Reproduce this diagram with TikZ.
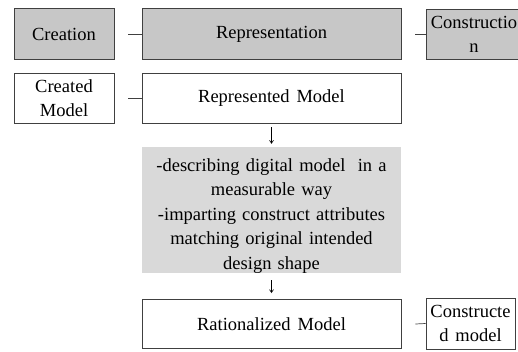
\documentclass[tikz,border=0pt]{standalone}
\usepackage{fontspec}
\setmainfont{Liberation Serif}[WordSpace=1.5]
\usetikzlibrary{arrows.meta}

\tikzset{
  stagebox/.style={draw=black!75, line width=0.9pt, fill=black!22, minimum height=51pt, inner sep=2pt, align=center},
  modelbox/.style={draw=black!75, line width=0.9pt, fill=white, minimum height=50pt, inner sep=2pt, align=center},
  notebox/.style={fill=black!15, inner sep=0pt, minimum width=259pt, minimum height=126pt},
  notetext/.style={inner sep=0pt, text width=257pt, align=center},
  link/.style={draw=black!75, line width=0.7pt},
  down/.style={-{Straight Barb[length=3pt,width=4pt]}, line width=0.6pt},
}

\begin{document}
\begin{tikzpicture}[x=1pt, y=-1pt, font=\fontsize{18.5}{24}\selectfont]
  \useasboundingbox (0,0) rectangle (518,351);
  % Stages (top row)
  \node[stagebox, minimum width=100pt] (creation) at (64,34) {Creation};
  \node[stagebox, minimum width=259pt] (representation) at (271.5,34) {Representation};
  \node[stagebox, minimum width=96pt, minimum height=50pt] (construction) at (474,34) {Constructio\\n};
  % Models
  \node[modelbox, minimum width=100pt] (created) at (64,98) {Created\\Model};
  \node[modelbox, minimum width=259pt] (represented) at (271.5,98) {Represented Model};
  \node[notebox] (notes) at (271.5,210) {};
  \node[notetext, font=\fontsize{18.5}{24.5}\selectfont] (notetext) at ([yshift=-6pt]notes.center)
    {-describing digital model\ \ in a\\measurable way\\-imparting construct attributes\\matching original intended\\design shape};
  \node[modelbox, minimum width=259pt, minimum height=49pt] (rationalized) at (271.5,324) {Rationalized Model};
  \node[modelbox, minimum width=89pt, minimum height=51pt] (constructed) at (470.5,323.5) {Constructe\\d model};
  % Links
  \draw[link] ([xshift=14pt]creation.east) -- (representation.west);
  \draw[link] ([xshift=14pt]representation.east) -- (construction.west);
  \draw[link] ([xshift=14pt]created.east) -- (represented.west);
  \draw[link] ([xshift=14pt]rationalized.east) -- (constructed.west);
  \draw[down, shorten <=4pt, shorten >=3pt] (represented) -- (notes);
  \draw[down, shorten <=7pt, shorten >=6pt] (notes) -- (rationalized);
\end{tikzpicture}
\end{document}
